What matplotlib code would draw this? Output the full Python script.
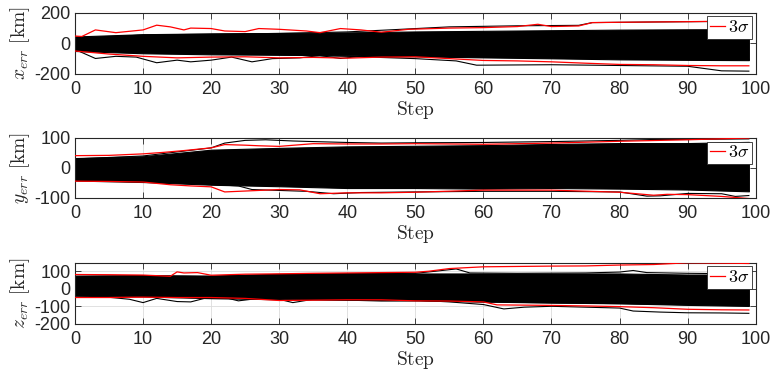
import matplotlib
matplotlib.use("Agg")
import matplotlib.pyplot as plt
from matplotlib.lines import Line2D

plt.rcParams['font.family'] = ['Liberation Sans', 'DejaVu Sans']
plt.rcParams['mathtext.fontset'] = 'cm'
plt.rcParams['axes.unicode_minus'] = False

# ---------------- data ----------------
env_steps = [0, 10, 20, 30, 40, 50, 60, 70, 80, 90, 99]

# x panel
x_core_hi = [45, 60, 65, 68, 72, 78, 82, 86, 90, 92, 93]
x_core_lo = [-50, -65, -72, -75, -78, -85, -92, -98, -105, -108, -110]
x_out1_s = [0, 10, 20, 30, 40, 47, 55, 65, 74, 76, 85, 99]
x_out1_v = [30, 55, 60, 65, 75, 90, 108, 115, 118, 136, 140, 145]
x_out2_s = [0, 12, 25, 40, 50, 56, 59, 70, 80, 90, 95, 99]
x_out2_v = [-40, -60, -70, -85, -100, -115, -143, -140, -145, -150, -180, -182]
x_out3_s = [0, 3, 6, 9, 12, 15, 17, 20, 23, 26, 29, 33, 36, 39, 42, 46, 50, 60, 70, 80, 90, 99]
x_out3_v = [-40, -99, -85, -90, -127, -110, -121, -110, -90, -121, -100, -95, -80, -99, -85, -90,
            -85, -90, -95, -100, -105, -105]
x_red_hi_s = [0, 1, 3, 6, 10, 12, 14, 16, 17, 20, 22, 25, 27, 30, 34, 36, 39, 42, 45, 49, 55, 60,
              65, 68, 70, 74, 76, 80, 90, 99]
x_red_hi_v = [48, 45, 88, 70, 88, 119, 108, 88, 100, 97, 81, 77, 97, 92, 81, 70, 97, 88, 73, 92,
              100, 103, 110, 125, 110, 114, 136, 138, 142, 147]
x_red_lo_s = [0, 5, 10, 15, 20, 25, 30, 35, 40, 45, 50, 55, 60, 65, 70, 75, 80, 85, 90, 95, 99]
x_red_lo_v = [-50, -70, -85, -95, -90, -88, -95, -92, -97, -90, -88, -100, -112, -115, -121,
              -130, -138, -140, -145, -147, -147]

# y panel
y_core_hi = [33, 39, 61, 67, 72, 74, 76, 80, 83, 83, 87]
y_core_lo = [-42, -47, -56, -61, -67, -67, -69, -67, -69, -72, -78]
y_out1_s = [0, 10, 20, 22, 25, 28, 32, 35, 40, 45, 50, 60, 70, 80, 85, 90, 99]
y_out1_v = [30, 40, 67, 83, 92, 94, 90, 88, 85, 83, 84, 85, 88, 92, 95, 95, 97]
y_out2_s = [0, 10, 20, 24, 26, 30, 34, 38, 42, 50, 60, 70, 80, 84, 86, 90, 95, 97, 99]
y_out2_v = [-35, -45, -55, -60, -72, -75, -78, -86, -82, -80, -78, -78, -80, -94, -93, -85, -86,
            -95, -92]
y_red_hi_s = [0, 5, 10, 13, 16, 20, 22, 25, 27, 30, 35, 40, 45, 50, 60, 70, 80, 90, 99]
y_red_hi_v = [41, 42, 47, 52, 58, 67, 78, 76, 74, 72, 81, 80, 80, 81, 79, 83, 89, 94, 100]
y_red_lo_s = [0, 5, 10, 14, 17, 20, 22, 25, 30, 33, 36, 40, 45, 50, 60, 70, 80, 85, 87, 90, 95, 99]
y_red_lo_v = [-44, -45, -47, -56, -60, -63, -80, -77, -72, -73, -86, -83, -83, -81, -74, -74,
              -81, -91, -88, -89, -95, -102]

# z panel
z_core_hi = [75, 78, 75, 85, 88, 87, 87, 87, 87, 81, 81]
z_core_lo = [-40, -44, -54, -60, -63, -63, -73, -79, -83, -92, -98]
z_out1_s = [0, 4, 8, 10, 12, 15, 17, 19, 22, 24, 27, 30, 32, 35, 40, 45, 50, 60, 70, 80, 90, 99]
z_out1_v = [-30, -45, -60, -79, -55, -73, -75, -55, -50, -69, -55, -60, -79, -60, -65, -70, -70,
            -75, -80, -85, -90, -95]
z_out2_s = [0, 10, 20, 30, 40, 45, 50, 55, 60, 63, 66, 70, 75, 80, 82, 86, 90, 95, 99]
z_out2_v = [-20, -35, -45, -50, -55, -60, -65, -75, -90, -115, -105, -100, -105, -110, -127,
            -133, -137, -138, -140]
z_out3_s = [0, 10, 20, 30, 40, 50, 53, 56, 58, 65, 75, 80, 82, 84, 90, 99]
z_out3_v = [60, 65, 70, 80, 85, 88, 100, 113, 90, 88, 90, 95, 104, 92, 88, 85]
z_red_hi_s = [0, 5, 10, 14, 15, 16, 18, 20, 25, 30, 35, 40, 45, 50, 52, 55, 60, 65, 70, 75, 80,
              85, 90, 95, 99]
z_red_hi_v = [81, 80, 78, 71, 96, 90, 92, 77, 83, 85, 88, 90, 92, 94, 100, 115, 125, 127, 129,
              130, 135, 138, 148, 146, 144]
z_red_lo_s = [0, 5, 10, 15, 20, 25, 30, 35, 40, 45, 50, 55, 60, 62, 65, 70, 75, 80, 85, 90, 95, 99]
z_red_lo_v = [-50, -50, -48, -50, -50, -55, -67, -65, -63, -63, -69, -70, -75, -92, -93, -95,
              -98, -102, -108, -117, -120, -121]

x_ticks = list(range(0, 101, 10))
panels = [
    dict(label=r'$x_{err}\ \mathrm{[km]}$', ylim=(-200, 200), yticks=[-200, 0, 200],
         hi=x_core_hi, lo=x_core_lo,
         outs=[(x_out1_s, x_out1_v), (x_out2_s, x_out2_v), (x_out3_s, x_out3_v)],
         red=[(x_red_hi_s, x_red_hi_v), (x_red_lo_s, x_red_lo_v)]),
    dict(label=r'$y_{err}\ \mathrm{[km]}$', ylim=(-100, 100), yticks=[-100, 0, 100],
         hi=y_core_hi, lo=y_core_lo,
         outs=[(y_out1_s, y_out1_v), (y_out2_s, y_out2_v)],
         red=[(y_red_hi_s, y_red_hi_v), (y_red_lo_s, y_red_lo_v)]),
    dict(label=r'$z_{err}\ \mathrm{[km]}$', ylim=(-200, 148), yticks=[-200, -100, 0, 100],
         hi=z_core_hi, lo=z_core_lo,
         outs=[(z_out1_s, z_out1_v), (z_out2_s, z_out2_v), (z_out3_s, z_out3_v)],
         red=[(z_red_hi_s, z_red_hi_v), (z_red_lo_s, z_red_lo_v)]),
]

fig = plt.figure(figsize=(7.70, 3.77), dpi=100)
bottoms = [0.804, 0.475, 0.141]
heights = [0.162, 0.159, 0.162]

for p, b, h in zip(panels, bottoms, heights):
    ax = fig.add_axes([0.0974, b, 0.884, h])
    ax.fill_between(env_steps, p['lo'], p['hi'], color='black', linewidth=0.8, zorder=2)
    for s, v in p['outs']:
        ax.plot(s, v, color='black', lw=0.8, zorder=2)
    for s, v in p['red']:
        ax.plot(s, v, color='#ff0000', lw=0.9, zorder=3)
    ax.set_xlim(0, 100)
    ax.set_ylim(*p['ylim'])
    ax.set_xticks(x_ticks)
    ax.set_yticks(p['yticks'])
    ax.grid(True, color='#dcdcdc', lw=0.6, zorder=0)
    ax.set_axisbelow(True)
    ax.tick_params(direction='in', top=True, right=True, length=4, width=0.6,
                   labelsize=13, colors='#262626')
    ax.tick_params(axis='x', pad=5)
    ax.tick_params(axis='y', pad=3)
    for sp in ax.spines.values():
        sp.set_linewidth(0.8)
        sp.set_color('#262626')
    ax.set_ylabel(p['label'], fontsize=14, labelpad=2, color='#262626')
    ax.set_xlabel(r'$\mathrm{Step}$', fontsize=14, labelpad=1, color='#262626')
    h_red = Line2D([0], [0], color='#ff0000', lw=0.9)
    leg = ax.legend([h_red], [r'$3\sigma$'], loc='upper right', fontsize=13,
                    fancybox=False, framealpha=1, edgecolor='#262626',
                    handlelength=0.8, handletextpad=0.2, borderpad=0.15,
                    borderaxespad=0.2)
    leg.get_frame().set_linewidth(0.6)
    leg.set_zorder(5)

fig.savefig('out.png', dpi=100)
